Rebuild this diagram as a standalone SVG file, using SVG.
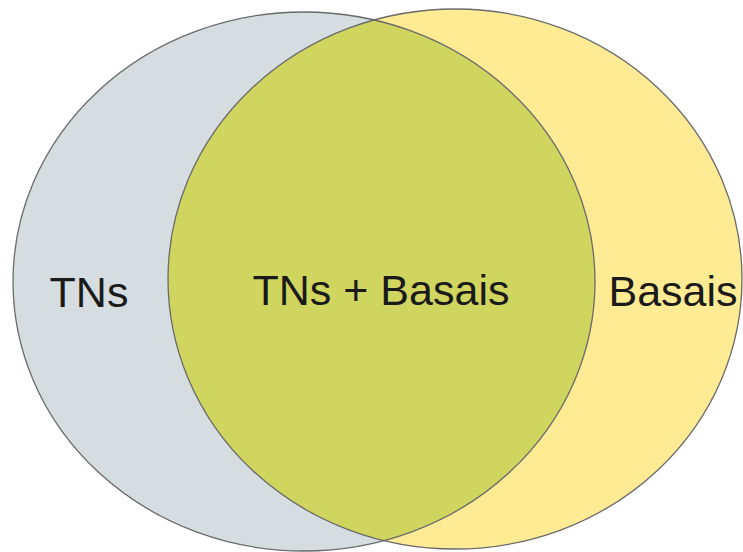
<svg xmlns="http://www.w3.org/2000/svg" width="743" height="552" viewBox="0 0 743 552">
<style>
.lbl{font-family:"Liberation Sans",Arial,sans-serif;font-size:43px;fill:#1a1a1a;text-anchor:middle}
.ol{fill:none;stroke:#6a6a6a;stroke-width:1.3}
</style>
<defs>
<clipPath id="clipL"><ellipse cx="304" cy="281.5" rx="291" ry="269.5"/></clipPath>
</defs>
<rect width="743" height="552" fill="#ffffff"/>
<g id="tns">
<ellipse cx="304" cy="281.5" rx="291" ry="269.5" fill="#d6dde1"/>
</g>
<g id="basais">
<ellipse cx="455" cy="279" rx="287" ry="270" fill="#feeb94"/>
</g>
<g id="overlap">
<ellipse cx="455" cy="279" rx="287" ry="270" fill="#cfd55f" clip-path="url(#clipL)"/>
</g>
<g id="outlines">
<ellipse class="ol" cx="304" cy="281.5" rx="291" ry="269.5"/>
<ellipse class="ol" cx="455" cy="279" rx="287" ry="270"/>
</g>
<text class="lbl" x="89" y="307">TNs</text>
<text class="lbl" x="381" y="305">TNs + Basais</text>
<text class="lbl" x="673" y="306">Basais</text>
</svg>
